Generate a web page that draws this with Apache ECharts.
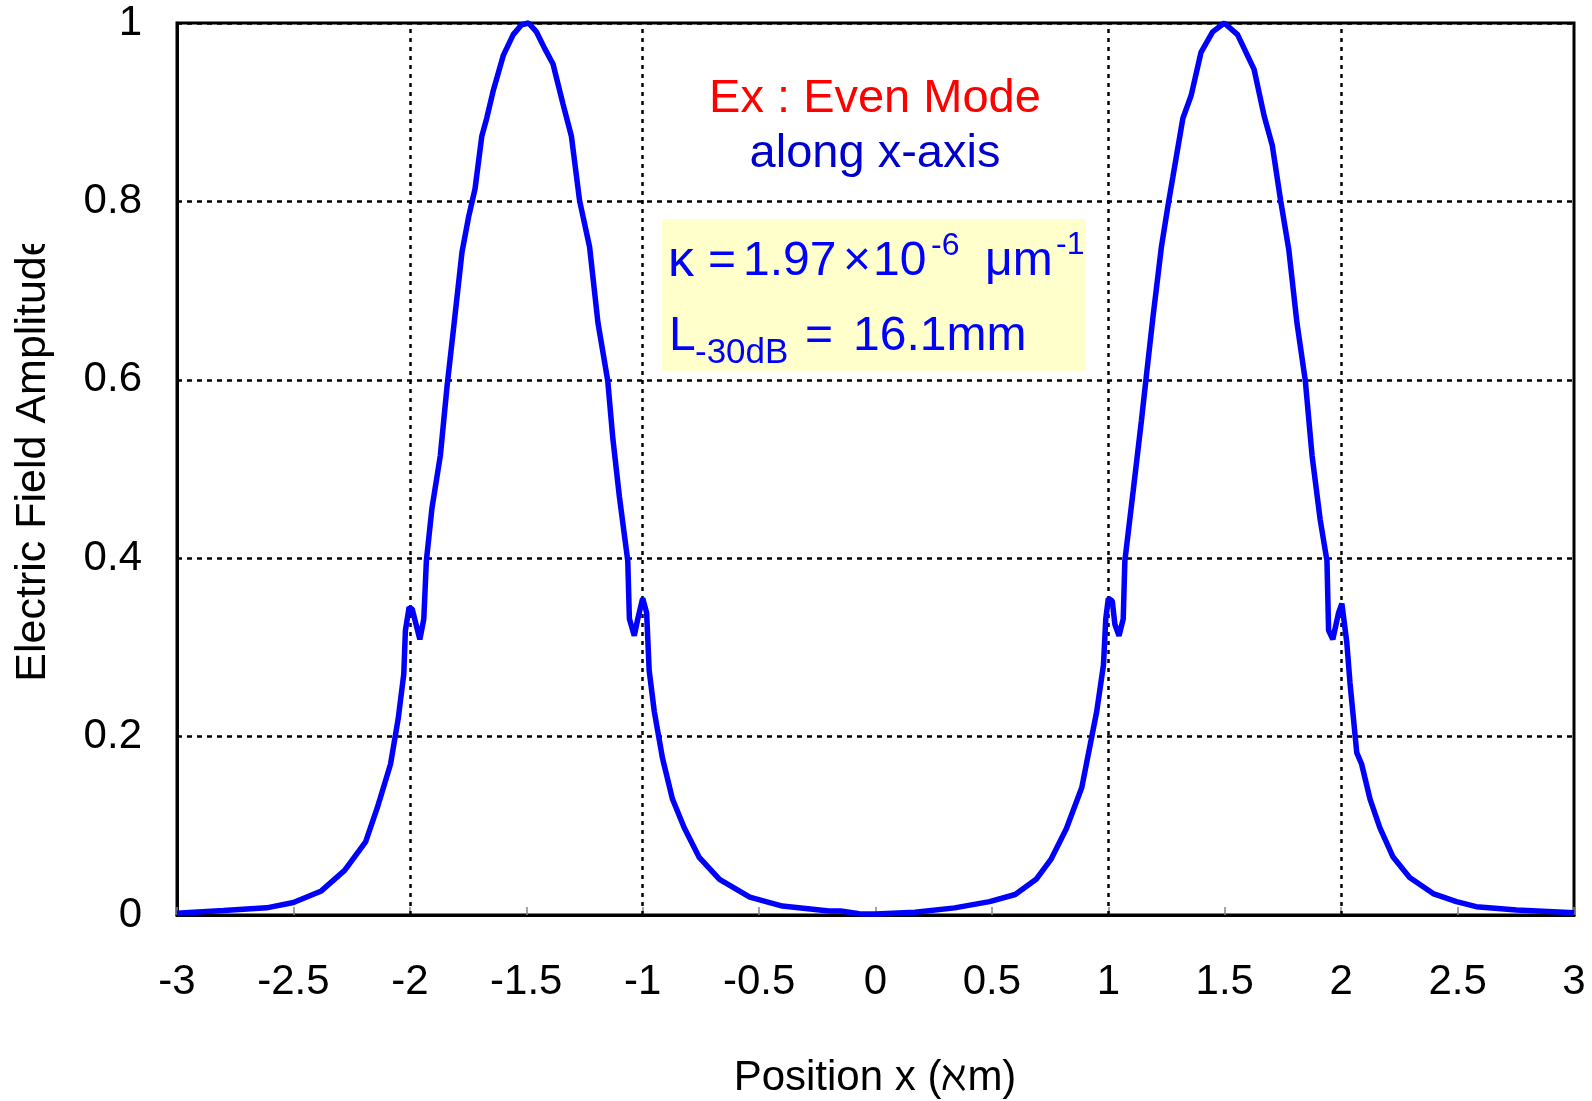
<!DOCTYPE html>
<html>
<head>
<meta charset="utf-8">
<script src="https://cdn.jsdelivr.net/npm/echarts@6/dist/echarts.min.js"></script>
<style>
html,body{margin:0;padding:0;background:#fff;}
#chart{width:1592px;height:1101px;}
</style>
</head>
<body>
<div id="chart"></div>
<script>
// Position x (µm)
const xs = [-3.0, -2.8, -2.615, -2.5, -2.38, -2.28, -2.19, -2.14, -2.083, -2.05, -2.026, -2.019, -2.003, -1.99, -1.957, -1.94, -1.929, -1.905, -1.869, -1.84, -1.812, -1.776, -1.748, -1.72, -1.691, -1.67, -1.641, -1.598, -1.556, -1.52, -1.49, -1.456, -1.42, -1.385, -1.342, -1.306, -1.271, -1.228, -1.192, -1.15, -1.128, -1.10, -1.064, -1.057, -1.036, -1.021, -1.0, -0.983, -0.972, -0.95, -0.915, -0.872, -0.822, -0.758, -0.67, -0.54, -0.40, -0.20, -0.15, -0.07, 0.0,
  0.17, 0.34, 0.49, 0.60, 0.69, 0.755, 0.82, 0.886, 0.95, 0.979, 0.989, 1.0, 1.017, 1.028, 1.046, 1.064, 1.071, 1.107, 1.142, 1.164, 1.192, 1.228, 1.256, 1.277, 1.32, 1.356, 1.398, 1.448, 1.498, 1.555, 1.626, 1.669, 1.704, 1.74, 1.775, 1.81, 1.846, 1.875, 1.91, 1.939, 1.946, 1.964, 1.989, 2.003, 2.024, 2.038, 2.067, 2.088, 2.124, 2.166, 2.223, 2.294, 2.395, 2.495, 2.58, 2.753, 3.0];
// Electric field amplitude
const ys = [0.002, 0.005, 0.008, 0.014, 0.027, 0.05, 0.082, 0.12, 0.169, 0.22, 0.27, 0.319, 0.345, 0.343, 0.309, 0.332, 0.397, 0.456, 0.515, 0.593, 0.658, 0.743, 0.782, 0.814, 0.873, 0.893, 0.925, 0.964, 0.987, 0.998, 1.0, 0.99, 0.971, 0.954, 0.909, 0.873, 0.801, 0.749, 0.664, 0.599, 0.534, 0.469, 0.397, 0.332, 0.313, 0.332, 0.355, 0.339, 0.274, 0.228, 0.176, 0.130, 0.098, 0.065, 0.040, 0.020, 0.010, 0.0045, 0.0045, 0.0015, 0.001,
  0.003, 0.008, 0.015, 0.023, 0.040, 0.063, 0.097, 0.143, 0.228, 0.28, 0.332, 0.355, 0.352, 0.326, 0.313, 0.332, 0.397, 0.476, 0.554, 0.606, 0.671, 0.749, 0.795, 0.827, 0.893, 0.919, 0.967, 0.990, 1.0, 0.987, 0.948, 0.896, 0.863, 0.801, 0.746, 0.664, 0.599, 0.515, 0.443, 0.397, 0.319, 0.309, 0.339, 0.349, 0.306, 0.26, 0.182, 0.169, 0.130, 0.098, 0.065, 0.042, 0.024, 0.015, 0.0093, 0.0056, 0.0026];
const gridXs = [-2, -1, 1, 2];

const FONT = "'Liberation Sans', Arial, sans-serif";
const chart = echarts.init(document.getElementById('chart'));
const pts = xs.map((x, i) => [x, ys[i]]);

function txt(text, x, y, size, color, align, extra) {
  return Object.assign({
    type: 'text', x: x, y: y, z: 50,
    style: { text: text, fill: color, font: size + 'px ' + FONT, textAlign: align || 'left', textVerticalAlign: 'middle' }
  }, extra || {});
}

chart.setOption({
  animation: false,
  backgroundColor: '#fff',
  grid: { left: 177, right: 18, top: 23, bottom: 186, show: true, borderColor: '#000', borderWidth: 3, backgroundColor: 'transparent' },
  xAxis: {
    type: 'value', min: -3, max: 3, interval: 0.5,
    axisLine: { show: true, onZero: false, lineStyle: { color: '#000', width: 3 } },
    axisTick: { show: true, inside: true, length: 8, lineStyle: { color: '#888', width: 1.5 } },
    axisLabel: { color: '#000', fontSize: 42, fontFamily: FONT, margin: 46 },
    splitLine: { show: false }
  },
  yAxis: {
    type: 'value', min: 0, max: 1, interval: 0.2,
    axisLine: { show: true, onZero: false, lineStyle: { color: '#000', width: 3 } },
    axisTick: { show: false },
    axisLabel: { color: '#000', fontSize: 42, fontFamily: FONT, margin: 35 },
    splitLine: { show: true, lineStyle: { color: '#000', width: 2.5, type: [5, 5] } }
  },
  series: [{
    type: 'line', data: pts, showSymbol: false, symbol: 'none', clip: false, z: 3,
    lineStyle: { color: '#0000FF', width: 5.5 },
    markLine: {
      silent: true, symbol: 'none', z: 1, animation: false,
      label: { show: false },
      lineStyle: { color: '#000', width: 2.5, type: [4, 5] },
      data: gridXs.map(v => ({ xAxis: v }))
    }
  }],
  graphic: [
    { type: 'rect', z: 10, shape: { x: 662, y: 219, width: 423, height: 152 }, style: { fill: '#FFFFCC' } },
    txt('Ex : Even Mode', 875, 99, 47, '#FF0000', 'center'),
    txt('along x-axis', 875, 154, 47, '#0000CC', 'center'),
    txt('κ', 668, 262, 52, '#0000FF'),
    txt('=', 708, 262, 48, '#0000FF'),
    txt('1.97', 743, 262, 48, '#0000FF'),
    txt('×', 843, 262, 48, '#0000FF'),
    txt('10', 873, 262, 48, '#0000FF'),
    txt('-6', 931, 246, 32, '#0000FF'),
    txt('μm', 985, 262, 48, '#0000FF'),
    txt('-1', 1056, 245, 32, '#0000FF'),
    txt('L', 669, 337, 48, '#0000FF'),
    txt('-30dB', 695, 353, 35, '#0000FF'),
    txt('=', 805, 337, 48, '#0000FF'),
    txt('16.1mm', 853, 337, 48, '#0000FF'),
    txt('Position x (ℵm)', 875, 1078, 42, '#000', 'center'),
    txt('Electric Field Amplitude', 33, 457, 43, '#000', 'center', { rotation: Math.PI / 2 }),
    { type: 'rect', z: 60, shape: { x: 0, y: 0, width: 75, height: 244 }, style: { fill: '#fff' } }
  ]
});
</script>
</body>
</html>
